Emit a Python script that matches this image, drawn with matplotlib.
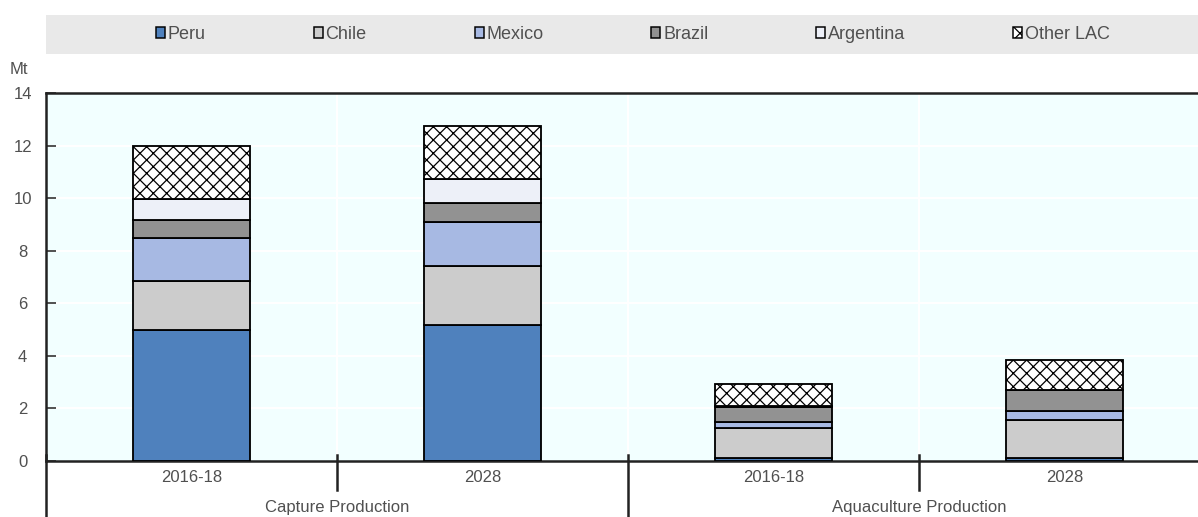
import matplotlib
matplotlib.use("Agg")
import matplotlib.pyplot as plt
from matplotlib import font_manager
from matplotlib.patches import Patch, Rectangle
from matplotlib.transforms import blended_transform_factory
import numpy as np


categories = ["2016-18", "2028", "2016-18", "2028"]
groups = ["Capture Production", "Aquaculture Production"]
countries = ["Peru", "Chile", "Mexico", "Brazil", "Argentina", "Other LAC"]

peru = [5.00, 5.19, 0.10, 0.10]
chile = [1.86, 2.23, 1.14, 1.45]
mexico = [1.61, 1.66, 0.24, 0.35]
brazil = [0.71, 0.73, 0.59, 0.80]
argentina = [0.80, 0.93, 0.01, 0.01]
other_lac = [1.99, 2.00, 0.85, 1.12]

series = [peru, chile, mexico, brazil, argentina, other_lac]
colors = ["#4F81BD", "#CCCCCC", "#A7B9E3", "#929292", "#EDF0F8", "white"]
hatches = [None, None, None, None, None, "xxx"]

names = {f.name for f in font_manager.fontManager.ttflist}
family = "Liberation Sans Narrow" if "Liberation Sans Narrow" in names else "Liberation Sans"
plt.rcParams["font.family"] = [family, "DejaVu Sans"]
plt.rcParams["hatch.linewidth"] = 0.75

W, H = 1198, 517
DPI = 120
fig = plt.figure(figsize=(W / DPI, H / DPI), dpi=DPI)
ax = fig.add_axes([46 / W, 56 / H, 1164 / W, 368 / H])
ax.set_facecolor("#F2FFFF")

txt_color = "#505050"
fs = 10

xs = np.arange(len(categories))
bottom = np.zeros(len(categories))
for vals, col, hat in zip(series, colors, hatches):
    ax.bar(xs, vals, 0.4, bottom=bottom, color=col, edgecolor="black",
           linewidth=1.1, hatch=hat, zorder=3)
    bottom += np.array(vals)

# Aesthetics
ax.set_xlim(-0.5, 3.5)
ax.set_ylim(0, 14)
ax.set_yticks(np.arange(0, 15, 2))
for y in np.arange(2, 14, 2):
    ax.axhline(y, color="white", linewidth=1.2, zorder=1)
for x in [0.5, 1.5, 2.5]:
    ax.axvline(x, color="white", linewidth=1.2, zorder=1)

ax.tick_params(axis="y", direction="in", length=6, width=1, pad=14,
               labelsize=fs, labelcolor=txt_color, color="#333333")
for lab in ax.get_yticklabels():
    lab.set_horizontalalignment("center")
ax.set_xticks([])
for side in ["top", "left", "bottom"]:
    ax.spines[side].set_linewidth(1.5)
    ax.spines[side].set_color("#222222")
ax.spines["right"].set_visible(False)

tr = blended_transform_factory(ax.transData, ax.transAxes)
for x, cat in zip(xs, categories):
    ax.text(x, -0.045, cat, transform=tr, ha="center", va="center",
            fontsize=fs, color=txt_color)
for i, g in enumerate(groups):
    ax.text(0.5 + 2 * i, -0.126, g, transform=tr, ha="center", va="center",
            fontsize=fs, color=txt_color)

for x, low in [(0.5, -0.079), (2.5, -0.079), (1.5, -0.16), (-0.5, -0.16)]:
    ax.plot([x, x], [0.016, low], transform=tr, color="#222222",
            linewidth=1.5, clip_on=False, zorder=5)

fig.text(10 / W, 1 - 70 / H, "Mt", ha="left", va="center",
         fontsize=fs, color=txt_color)

# Legend band
fig.patches.append(Rectangle((46 / W, 1 - 54 / H), 1 - 46 / W, 39 / H,
                             transform=fig.transFigure, facecolor="#E9E9E9",
                             edgecolor="none", zorder=0))
handles = [Patch(facecolor=c, edgecolor="black", hatch=h, linewidth=0.9)
           for c, h in zip(colors, hatches)]
fig.legend(handles, countries, loc="center left",
           bbox_to_anchor=(156 / W, 1 - 34.5 / H), ncol=6, frameon=False,
           fontsize=10.8, labelcolor=txt_color, handlelength=0.5,
           handleheight=0.5, handletextpad=0.15, columnspacing=6.0,
           borderpad=0, borderaxespad=0)

fig.savefig("out.png", dpi=DPI)
